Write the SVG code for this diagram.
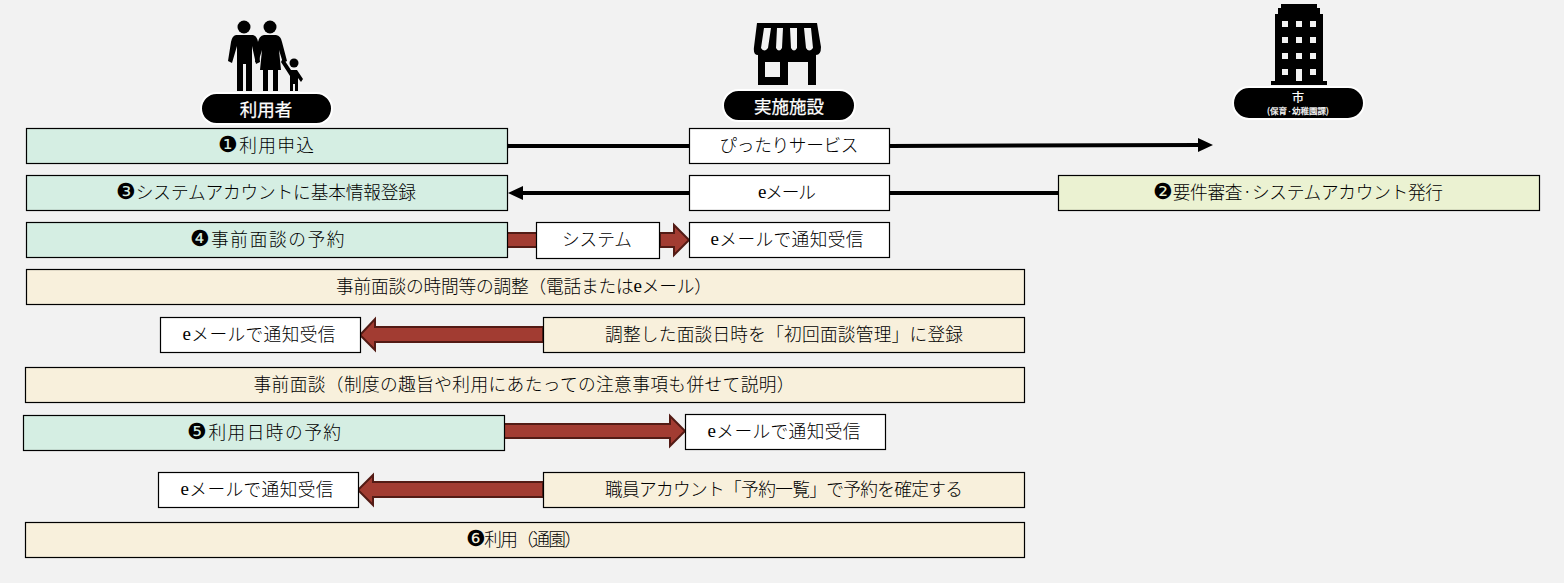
<svg xmlns="http://www.w3.org/2000/svg" width="1564" height="583" viewBox="0 0 1564 583">
<style>
text{font-family:"Noto Sans CJK JP","DejaVu Sans",sans-serif;font-size:17.7px;font-weight:300;fill:#000;text-anchor:middle;dominant-baseline:central}
.e{font-family:"Liberation Serif",serif;font-size:19px}
.n{font-family:"DejaVu Sans",sans-serif;font-size:22px}
.g{fill:#d5eee3;stroke:#000;stroke-width:1.2}
.y{fill:#f8f0dc;stroke:#000;stroke-width:1.2}
.l{fill:#ebf2d2;stroke:#000;stroke-width:1.2}
.w{fill:#fff;stroke:#000;stroke-width:1.2}
.ln{stroke:#000;stroke-width:4;fill:none}
.ar{fill:#a23c32;stroke:#531b15;stroke-width:2}
.pill{fill:#000;stroke:#fff;stroke-width:2}
.pt{fill:#fff;font-weight:400;font-size:17.500px;stroke:#fff;stroke-width:.25}
.ic{fill:#000}
</style>
<rect width="1564" height="583" fill="#f2f2f2"/>
<g id="connectors">
<path class="ln" d="M507 146H690M889 146L1200 145"/>
<circle cx="507" cy="146" r="2.500"/>
<path d="M1213 145L1198 138V152Z" fill="#000"/>
<path class="ln" d="M1059 193H889M690 193H522"/>
<path d="M508 193L523 186V200Z" fill="#000"/>
<path class="ar" d="M507 233H537V247H507Z"/>
<path class="ar" d="M660 233H674V225L689 240L674 255V247H660Z"/>
<path class="ar" d="M543 327V342H375V350L360 335L375 319V327Z"/>
<path class="ar" d="M504 424H670V416L685 431L670 446V438H504Z"/>
<path class="ar" d="M543 482V497H373V505L358 490L373 475V482Z"/>
</g>
<g id="icon-user" class="ic">
<circle cx="244" cy="27" r="6.500"/><circle cx="270" cy="27" r="6.500"/><circle cx="294" cy="63" r="4.500"/>
<path d="M236 35H253Q257 36 258 42L260 62L256 64L252 46V91H246V64H243V91H237V46L232 63L228 61L231 42Q232 36 236 35Z"/>
<path d="M264 35H276Q281 36 282 42L287 61L283 63L279 50L281 70H278V91H273V70H268V91H263V70H260L262 50L258 63L255 62L258 42Q259 36 264 35Z"/>
<path d="M283 58L291 70H297L303 79L301 82L298 78V91H295V84H293V91H290V76L281 62Z"/>
</g>
<g id="label-user"><rect class="pill" x="201" y="93" width="131" height="31" rx="15.500"/><text class="pt" x="266" y="108">利用者</text></g>
<g id="icon-facility" class="ic">
<path fill-rule="evenodd" d="M757 23H817L821 47Q821 55 816 55V85H758V55Q753 55 754 47ZM764 28L761 48Q764 53 768 48L771 28ZM777 28L776 48Q779 53 782 48L783 28ZM790 28L791 48Q794 53 797 48L797 28ZM804 28L806 48Q809 53 813 48L811 28ZM765 62V77H780V62ZM788 62V85H808V62Z"/>
</g>
<g id="label-facility"><rect class="pill" x="723" y="90" width="132" height="31" rx="15.500"/><text class="pt" x="789" y="105">実施施設</text></g>
<g id="icon-city" class="ic">
<path fill-rule="evenodd" d="M1281 4H1317V8H1320V14H1323V81H1327V85H1271V81H1275V14H1278V8H1281ZM1282 21V27H1288V21ZM1296 21V27H1302V21ZM1310 21V27H1316V21ZM1282 37V43H1288V37ZM1296 37V43H1302V37ZM1310 37V43H1316V37ZM1282 53V59H1288V53ZM1296 53V59H1302V53ZM1310 53V59H1316V53ZM1282 69V75H1288V69ZM1296 69V81H1302V69ZM1310 69V75H1316V69Z"/>
</g>
<g id="label-city"><rect class="pill" x="1233" y="87" width="131" height="32" rx="16"/><text class="pt" x="1298" y="96" style="font-size:12px">市</text><text class="pt" x="1298" y="110" style="font-size:8.500px">(保育<tspan style="font-size:5px">・</tspan>幼稚園課)</text></g>
<g id="n1"><rect class="g" x="26.500" y="128.500" width="481" height="35"/><text x="266" y="144" textLength="96"><tspan class="n">❶</tspan>利用申込</text></g>
<g id="n-pittari"><rect class="w" x="689.500" y="128.500" width="200" height="35"/><text x="789" y="144" textLength="139">ぴったりサービス</text></g>
<g id="n3"><rect class="g" x="26.500" y="175.500" width="481" height="35"/><text x="266" y="191" textLength="300"><tspan class="n">❸</tspan>システムアカウントに基本情報登録</text></g>
<g id="n-email"><rect class="w" x="689.500" y="175.500" width="200" height="35"/><text x="787" y="191" textLength="58"><tspan class="e">e</tspan>メール</text></g>
<g id="n2"><rect class="l" x="1058.500" y="175.500" width="481" height="35"/><text x="1298" y="191" textLength="290"><tspan class="n">❷</tspan>要件審査<tspan style="font-size:10px">・</tspan>システムアカウント発行</text></g>
<g id="n4"><rect class="g" x="26.500" y="222.500" width="481" height="35"/><text x="267" y="238" textLength="155"><tspan class="n">❹</tspan>事前面談の予約</text></g>
<g id="n-system"><rect class="w" x="536.500" y="222.500" width="123" height="36"/><text x="597" y="238" textLength="70">システム</text></g>
<g id="n-notice1"><rect class="w" x="689.500" y="222.500" width="200" height="35"/><text x="787" y="238" textLength="153"><tspan class="e">e</tspan>メールで通知受信</text></g>
<g id="n-adjust"><rect class="y" x="26.500" y="269.500" width="998" height="35"/><text x="524" y="285" textLength="376">事前面談の時間等の調整（電話または<tspan class="e">e</tspan>メール）</text></g>
<g id="n-notice2"><rect class="w" x="160.500" y="317.500" width="200" height="35"/><text x="259" y="333" textLength="153"><tspan class="e">e</tspan>メールで通知受信</text></g>
<g id="n-register"><rect class="y" x="543.500" y="317.500" width="481" height="35"/><text x="784" y="333" textLength="358">調整した面談日時を「初回面談管理」に登録</text></g>
<g id="n-interview"><rect class="y" x="25.500" y="367.500" width="999" height="35"/><text x="524" y="383" textLength="541">事前面談（制度の趣旨や利用にあたっての注意事項も併せて説明）</text></g>
<g id="n5"><rect class="g" x="23.500" y="415.500" width="481" height="35"/><text x="264" y="431" textLength="154"><tspan class="n">❺</tspan>利用日時の予約</text></g>
<g id="n-notice3"><rect class="w" x="685.500" y="414.500" width="200" height="35"/><text x="784" y="430" textLength="153"><tspan class="e">e</tspan>メールで通知受信</text></g>
<g id="n-notice4"><rect class="w" x="158.500" y="472.500" width="200" height="35"/><text x="257" y="488" textLength="153"><tspan class="e">e</tspan>メールで通知受信</text></g>
<g id="n-confirm"><rect class="y" x="543.500" y="472.500" width="481" height="35"/><text x="784" y="488" textLength="358">職員アカウント「予約一覧」で予約を確定する</text></g>
<g id="n6"><rect class="y" x="25.500" y="522.500" width="999" height="35"/><text x="524" y="538" textLength="116"><tspan class="n">❻</tspan>利用（通園）</text></g>
</svg>
